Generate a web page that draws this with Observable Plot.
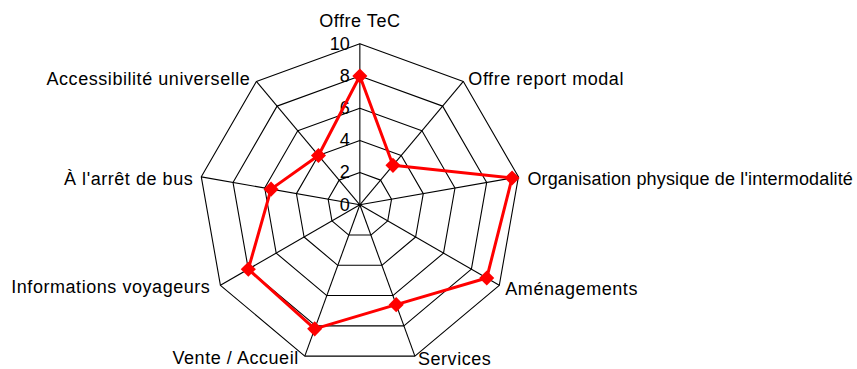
<!DOCTYPE html>
<html>
<head>
<meta charset="utf-8">
<script src="https://cdn.jsdelivr.net/npm/d3@7"></script>
<script src="https://cdn.jsdelivr.net/npm/@observablehq/plot@0.6"></script>
<style>
  html, body { margin: 0; padding: 0; background: #fff; }
  #chart { width: 857px; height: 369px; }
</style>
</head>
<body>
<div id="chart"></div>
<script>
const axes = ["Offre TeC", "Offre report modal", "Organisation physique de l'intermodalité", "Aménagements", "Services", "Vente / Accueil", "Informations voyageurs", "À l'arrêt de bus", "Accessibilité universelle"];
const values = [8, 3.2, 9.6, 9.1, 6.6, 8.2, 8.0, 5.6, 4.0];
const ticks = [0, 2, 4, 6, 8, 10];
const rings = [2, 4, 6, 8, 10];
const maxValue = 10;

const n = axes.length;
const angle = i => (2 * Math.PI * i) / n;
const px = (r, i) => r * Math.sin(angle(i));
const py = (r, i) => r * Math.cos(angle(i));

// grid rings (closed polygons)
const ringPts = rings.flatMap(r =>
  d3.range(n + 1).map(k => ({ring: r, x: px(r, k % n), y: py(r, k % n)}))
);
// spokes
const spokes = axes.map((a, i) => ({x1: 0, y1: 0, x2: px(maxValue, i), y2: py(maxValue, i)}));
// series
const seriesPts = d3.range(n + 1).map(k => ({x: px(values[k % n], k % n), y: py(values[k % n], k % n)}));
const markers = values.map((v, i) => ({x: px(v, i), y: py(v, i)}));
// labels
const labels = axes.map((a, i) => ({name: a, i, x: px(maxValue, i), y: py(maxValue, i)}));
const tickData = ticks.map(t => ({t, x: 0, y: t}));

const font = "Liberation Sans, Arial, sans-serif";
const lab = (filter, opts) => Plot.text(labels.filter(filter), {
  x: "x", y: "y", text: "name", fontSize: 18, fill: "black", lineAnchor: "middle", ...opts
});

const chart = Plot.plot({
  width: 857,
  height: 369,
  margin: 0,
  style: {fontFamily: font, background: "white"},
  x: {domain: [-22.32, 30.91], axis: null},
  y: {domain: [-10.23, 12.69], axis: null},
  marks: [
    Plot.line(ringPts, {x: "x", y: "y", z: "ring", stroke: "black", strokeWidth: 1.1}),
    Plot.link(spokes, {x1: "x1", y1: "y1", x2: "x2", y2: "y2", stroke: "black", strokeWidth: 1.1}),
    Plot.text(tickData, {x: "x", y: "y", text: d => String(d.t), textAnchor: "end", lineAnchor: "middle", dx: -10, fontSize: 18, fill: "black"}),
    Plot.line(seriesPts, {x: "x", y: "y", stroke: "#ff0000", strokeWidth: 3, strokeLinejoin: "miter"}),
    Plot.dot(markers, {x: "x", y: "y", symbol: "diamond2", r: 6.8, fill: "#ff0000", stroke: "none"}),
    lab(d => d.i === 0, {textAnchor: "middle", dy: -23}),
    lab(d => d.i === 1, {textAnchor: "start", dx: 5, dy: -2}),
    lab(d => d.i === 2, {textAnchor: "start", dx: 9, dy: 2}),
    lab(d => d.i === 3, {textAnchor: "start", dx: 6, dy: 4}),
    lab(d => d.i === 4, {textAnchor: "start", dx: 3, dy: 3}),
    lab(d => d.i === 5, {textAnchor: "end", dx: -6, dy: 2}),
    lab(d => d.i === 6, {textAnchor: "end", dx: -10, dy: 2}),
    lab(d => d.i === 7, {textAnchor: "end", dx: -8, dy: 2}),
    lab(d => d.i === 8, {textAnchor: "end", dx: -6, dy: -2})
  ]
});
// Widen letter spacing of the axis labels to match the reference typography
d3.select(chart).selectAll("text").each(function () {
  const t = this.textContent;
  if (!axes.includes(t)) return;
  const spacing = t === axes[2] ? 0.15 : 0.55;
  this.style.letterSpacing = spacing + "px";
});
document.getElementById("chart").appendChild(chart);
</script>
</body>
</html>
